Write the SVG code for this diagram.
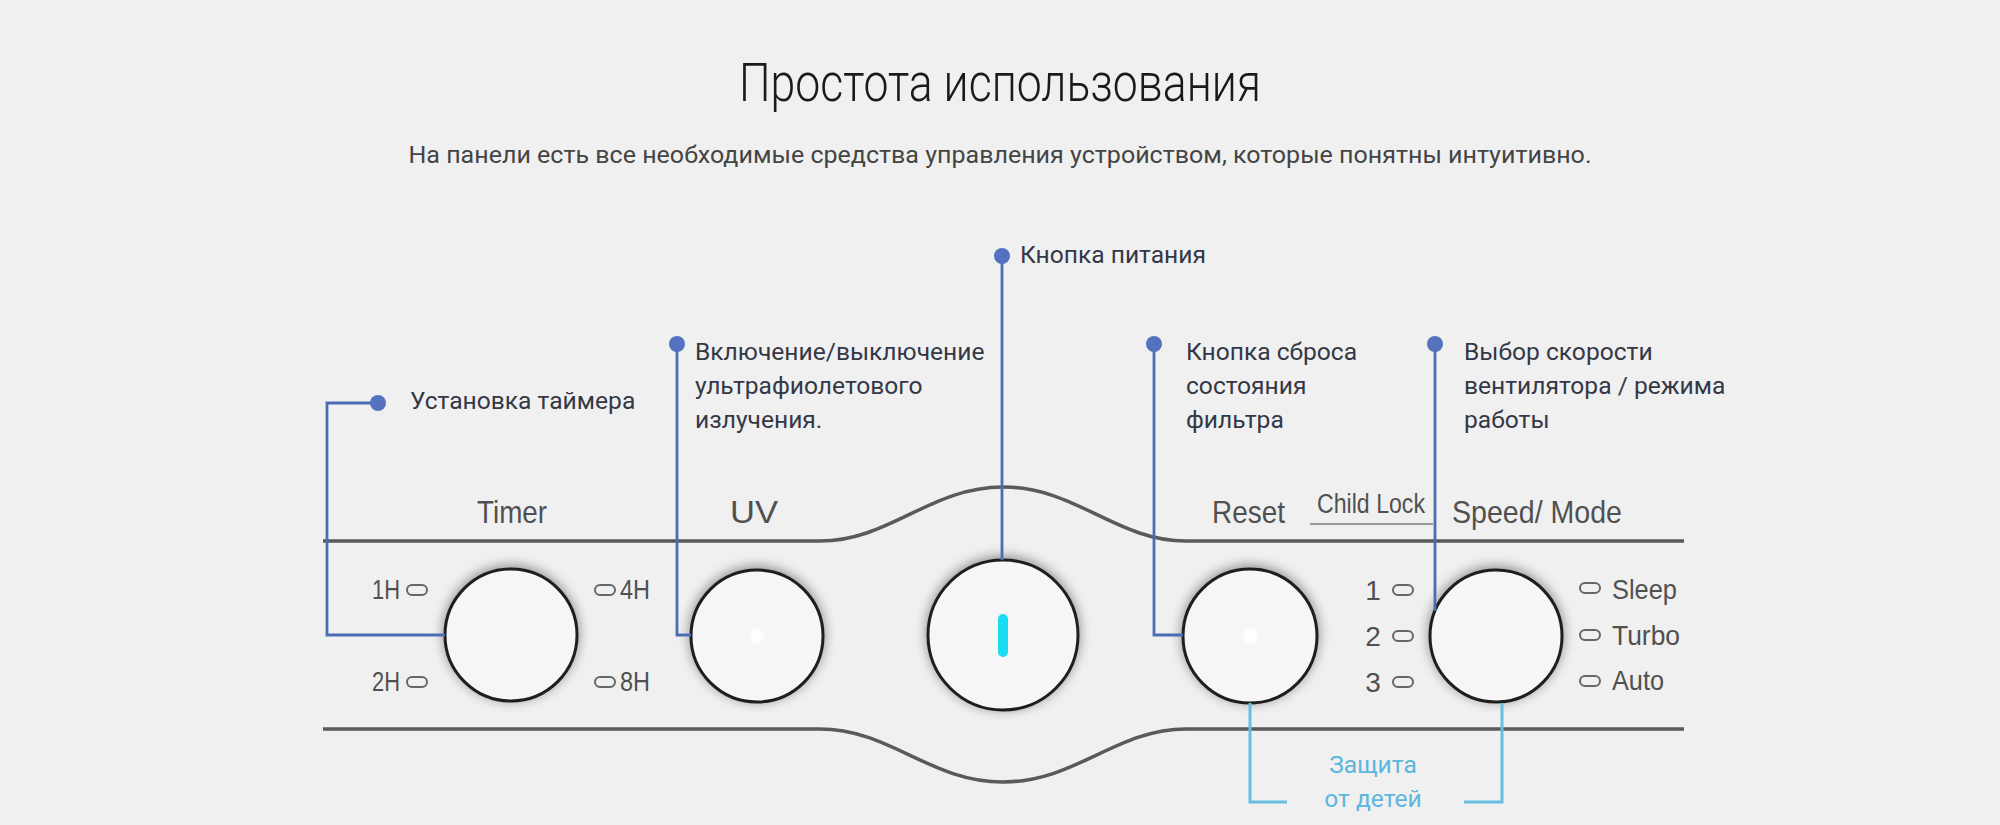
<svg xmlns="http://www.w3.org/2000/svg" width="2000" height="825" viewBox="0 0 2000 825">
<defs>
<style>
.ann{font-family:Roboto,"Noto Sans",sans-serif;font-size:24.6px;fill:#343846}
.pl{font-family:"Liberation Sans",Arial,sans-serif;fill:#505050}
.edge{fill:none;stroke:#5a5a5a;stroke-width:3.5}
.ov{fill:none;stroke:#666;stroke-width:2}
.knob{fill:#f6f6f6;stroke:#1e1e1e;stroke-width:3}
.halo{fill:#000;opacity:0.4}
.con{fill:none;stroke:#4c6cb3;stroke-width:2.8}
.dot{fill:#5472be}
.cl{fill:none;stroke:#68bde2;stroke-width:3}
.clt{font-family:Roboto,"Noto Sans",sans-serif;font-size:24.6px;fill:#5cb6dd}
</style>
<filter id="sh" x="-40%" y="-40%" width="180%" height="180%"><feGaussianBlur stdDeviation="6"/></filter>
<filter id="bl" x="-10%" y="-10%" width="120%" height="120%"><feGaussianBlur stdDeviation="0.7"/></filter>
<filter id="glow" x="-100%" y="-100%" width="300%" height="300%"><feGaussianBlur stdDeviation="1.5"/></filter>
</defs>
<rect width="2000" height="825" fill="#f0f0f0"/>

<g id="title">
<text x="1000" y="101" text-anchor="middle" font-family="Roboto,'Noto Sans',sans-serif" font-weight="300" font-size="53" fill="#1a1a1a" textLength="522" lengthAdjust="spacingAndGlyphs">Простота использования</text>
</g>
<g id="subtitle">
<text x="1000" y="163" text-anchor="middle" font-family="Roboto,'Noto Sans',sans-serif" font-size="24" fill="#444" textLength="1183" lengthAdjust="spacingAndGlyphs">На панели есть все необходимые средства управления устройством, которые понятны интуитивно.</text>
</g>

<g id="panel">
<path class="edge" filter="url(#bl)" d="M323,541 H820 C890,541 930,487 1003,487 C1076,487 1116,541 1186,541 H1684"/>
<path class="edge" filter="url(#bl)" d="M323,729 H820 C890,729 930,782 1003,782 C1076,782 1116,729 1186,729 H1684"/>
<text class="pl" x="512" y="523" font-size="32" text-anchor="middle" textLength="70" lengthAdjust="spacingAndGlyphs">Timer</text>
<text class="pl" x="754" y="523" font-size="32" text-anchor="middle" textLength="48" lengthAdjust="spacingAndGlyphs">UV</text>
<text class="pl" x="1212" y="523" font-size="32" textLength="73" lengthAdjust="spacingAndGlyphs">Reset</text>
<text class="pl" x="1317" y="513" font-size="27" textLength="108" lengthAdjust="spacingAndGlyphs">Child Lock</text>
<line x1="1310" y1="524" x2="1433" y2="524" stroke="#999" stroke-width="2"/>
<text class="pl" x="1452" y="523" font-size="32" textLength="170" lengthAdjust="spacingAndGlyphs">Speed/ Mode</text>
<text class="pl" x="372" y="599" font-size="27" textLength="28" lengthAdjust="spacingAndGlyphs">1H</text>
<text class="pl" x="372" y="691" font-size="27" textLength="28" lengthAdjust="spacingAndGlyphs">2H</text>
<text class="pl" x="620" y="599" font-size="27" textLength="30" lengthAdjust="spacingAndGlyphs">4H</text>
<text class="pl" x="620" y="691" font-size="27" textLength="30" lengthAdjust="spacingAndGlyphs">8H</text>
<rect class="ov" x="407" y="585" width="20" height="10" rx="5"/>
<rect class="ov" x="407" y="677" width="20" height="10" rx="5"/>
<rect class="ov" x="595" y="585" width="20" height="10" rx="5"/>
<rect class="ov" x="595" y="677" width="20" height="10" rx="5"/>
<text class="pl" x="1373" y="600" font-size="28" text-anchor="middle">1</text>
<text class="pl" x="1373" y="646" font-size="28" text-anchor="middle">2</text>
<text class="pl" x="1373" y="692" font-size="28" text-anchor="middle">3</text>
<rect class="ov" x="1393" y="585" width="20" height="10" rx="5"/>
<rect class="ov" x="1393" y="631" width="20" height="10" rx="5"/>
<rect class="ov" x="1393" y="677" width="20" height="10" rx="5"/>
<rect class="ov" x="1580" y="583" width="20" height="10" rx="5"/>
<rect class="ov" x="1580" y="630" width="20" height="10" rx="5"/>
<rect class="ov" x="1580" y="676" width="20" height="10" rx="5"/>
<text class="pl" x="1612" y="599" font-size="28" textLength="65" lengthAdjust="spacingAndGlyphs">Sleep</text>
<text class="pl" x="1612" y="645" font-size="28" textLength="68" lengthAdjust="spacingAndGlyphs">Turbo</text>
<text class="pl" x="1612" y="690" font-size="28" textLength="52" lengthAdjust="spacingAndGlyphs">Auto</text>
</g>

<g id="knob-timer">
<circle class="halo" cx="511" cy="633" r="68" filter="url(#sh)"/>
<circle class="knob" cx="511" cy="635" r="66"/>
</g>
<g id="knob-uv">
<circle class="halo" cx="757" cy="634" r="68" filter="url(#sh)"/>
<circle class="knob" cx="757" cy="636" r="66"/>
<circle cx="757" cy="636" r="7" fill="#fff" filter="url(#glow)"/>
</g>
<g id="knob-power">
<circle class="halo" cx="1003" cy="633" r="77" filter="url(#sh)"/>
<circle class="knob" cx="1003" cy="635" r="75"/>
<rect x="998" y="614" width="10" height="43" rx="5" fill="#19dcf2"/>
</g>
<g id="knob-reset">
<circle class="halo" cx="1250" cy="634" r="69" filter="url(#sh)"/>
<circle class="knob" cx="1250" cy="636" r="67"/>
<circle cx="1250" cy="636" r="7" fill="#fff" filter="url(#glow)"/>
</g>
<g id="knob-speed">
<circle class="halo" cx="1496" cy="634" r="68" filter="url(#sh)"/>
<circle class="knob" cx="1496" cy="636" r="66"/>
</g>

<g id="connectors">
<path class="con" d="M378,403 H327 V635 H445"/>
<path class="con" d="M677,344 V635 H691"/>
<path class="con" d="M1002,256 V560"/>
<path class="con" d="M1154,344 V635 H1183"/>
<path class="con" d="M1435,344 V611"/>
<circle class="dot" cx="378" cy="403" r="8"/>
<circle class="dot" cx="677" cy="344" r="8"/>
<circle class="dot" cx="1002" cy="256" r="8"/>
<circle class="dot" cx="1154" cy="344" r="8"/>
<circle class="dot" cx="1435" cy="344" r="8"/>
<path class="cl" d="M1250,703 V802 H1287"/>
<path class="cl" d="M1502,703 V802 H1464"/>
</g>

<g id="label-timer">
<text class="ann" x="410" y="409">Установка таймера</text>
</g>
<g id="label-uv">
<text class="ann" x="695" y="360">Включение/выключение</text>
<text class="ann" x="695" y="394">ультрафиолетового</text>
<text class="ann" x="695" y="428">излучения.</text>
</g>
<g id="label-power">
<text class="ann" x="1020" y="263">Кнопка питания</text>
</g>
<g id="label-reset">
<text class="ann" x="1186" y="360">Кнопка сброса</text>
<text class="ann" x="1186" y="394">состояния</text>
<text class="ann" x="1186" y="428">фильтра</text>
</g>
<g id="label-speed">
<text class="ann" x="1464" y="360">Выбор скорости</text>
<text class="ann" x="1464" y="394">вентилятора / режима</text>
<text class="ann" x="1464" y="428">работы</text>
</g>
<g id="label-childlock">
<text class="clt" x="1373" y="773" text-anchor="middle">Защита</text>
<text class="clt" x="1373" y="807" text-anchor="middle">от детей</text>
</g>
</svg>
